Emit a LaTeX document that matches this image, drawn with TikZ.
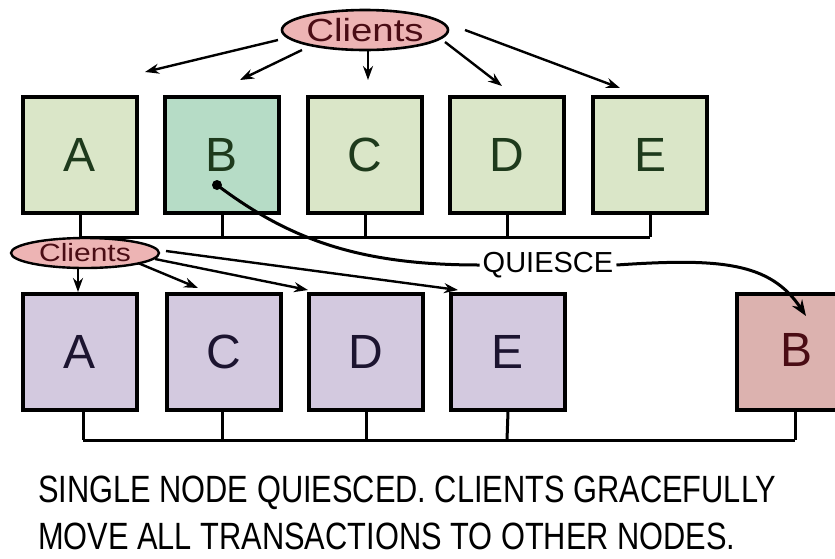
\documentclass[tikz,border=0pt]{standalone}
\usepackage{fontspec}
\setmainfont{Liberation Sans}
\usetikzlibrary{arrows.meta,shapes.geometric,positioning}
\definecolor{greenfill}{HTML}{DAE6C8}
\definecolor{tealfill}{HTML}{B6DCC6}
\definecolor{purplefill}{HTML}{D3C9DF}
\definecolor{rosefill}{HTML}{DCB2AF}
\definecolor{pinkfill}{HTML}{EDB4B4}
\definecolor{greenink}{HTML}{1E3A1C}
\definecolor{redink}{HTML}{4A0C14}
\definecolor{purpleink}{HTML}{1C1430}
\tikzset{
  server/.style={draw=black, line width=3.5pt, minimum width=114pt, minimum height=116pt, inner sep=0pt, font=\fontsize{48}{48}\selectfont},
  topserver/.style={server, fill=greenfill, text=greenink},
  lowserver/.style={server, fill=purplefill, text=purpleink},
  clientsbig/.style={ellipse, draw=black, line width=2.6pt, fill=pinkfill, text=redink, minimum width=150pt, minimum height=40pt, inner sep=0pt},
  clientssmall/.style={ellipse, draw=black, line width=2.4pt, fill=pinkfill, text=redink, minimum width=148pt, minimum height=30pt, inner sep=0pt},
  wire/.style={line width=3pt, black},
  req/.style={line width=2.4pt, black, -{Stealth[length=14pt,width=10pt]}},
  caption/.style={anchor=base west, inner sep=0pt, font=\fontsize{38}{38}\selectfont, xscale=0.81}
}
\begin{document}
\begin{tikzpicture}[x=1pt,y=-1pt]
\useasboundingbox (0,0) rectangle (835,558);

% upper cluster
\node[clientsbig] (cl1) at (365,30) {\fontsize{32}{32}\selectfont\scalebox{1.2}[1]{Clients}};
\node[topserver] (ta) at (80,155) {A};
\node[topserver, fill=tealfill] (tb) at (222,155) {B};
\node[topserver] (tc) at (365,155) {C};
\node[topserver] (td) at (507,155) {D};
\node[topserver] (te) at (650,155) {E};

\coordinate (ka) at (80,237);
\coordinate (kb) at (222,237);
\coordinate (kc) at (365,237);
\coordinate (kd) at (507,237);
\coordinate (ke) at (650,237);
\draw[wire] (ta.south) -- (ka);
\draw[wire] (tb.south) -- (kb);
\draw[wire] (tc.south) -- (kc);
\draw[wire] (td.south) -- (kd);
\draw[wire] (te.south) -- (ke);
\draw[wire] (ka) -- (ke);

\coordinate (ua) at (145,72);
\coordinate (ub) at (240,80);
\coordinate (uc) at (368,80);
\coordinate (ud) at (502,86);
\coordinate (ue) at (620,88);
\draw[req] (278,40) -- (ua);
\draw[req] (302,50) -- (ub);
\draw[req] (cl1.south) ++(3,0) -- (uc);
\draw[req] (445,42) -- (ud);
\draw[req] (465,30) -- (ue);

% lower cluster
\node[clientssmall] (cl2) at (85,253) {\fontsize{25}{25}\selectfont\scalebox{1.2}[1]{Clients}};
\node[lowserver] (la) at (80,352) {A};
\node[lowserver] (lc) at (224,352) {C};
\node[lowserver] (ld) at (366,352) {D};
\node[lowserver] (le) at (508,352) {E};
\node[server, fill=rosefill, text=redink, anchor=west] (lb) at (735,352) {};
\node[font=\fontsize{48}{48}\selectfont, text=redink] (lbl) at (796,350) {B};

\coordinate (ma) at (83,440);
\coordinate (mc) at (222,440);
\coordinate (md) at (366,440);
\coordinate (me) at (507,440);
\coordinate (mb) at (795,440);
\draw[wire] (83,410) -- (ma);
\draw[wire] (lc.south) ++(-2,0) -- (mc);
\draw[wire] (ld.south) -- (md);
\draw[wire] (le.south) -- (me);
\draw[wire] (795,410) -- (mb);
\draw[wire] (ma) -- (mb);

\coordinate (va) at (78,292);
\coordinate (vc) at (198,288);
\coordinate (vd) at (308,290);
\coordinate (ve) at (458,290);
\draw[req] (78,268) -- (va);
\draw[req] (138,263) -- (vc);
\draw[req] (155,259) -- (vd);
\draw[req] (166,251) -- (ve);

% the quiesce move
\node[font=\fontsize{29}{29}\selectfont, inner sep=3pt] (q) at (548,265) {QUIESCE};
\fill (217,185) circle (5pt);
\coordinate (bdot) at (217,185);
\draw[wire] (bdot) .. controls (290,240) and (360,265) .. (q.west);
\coordinate (btip) at (806,316);
\draw[line width=3pt, -{Stealth[length=16pt,width=12pt]}] (q.east) .. controls (720,258) and (770,262) .. (btip);

% caption
\node[caption] (cap1) at (38,502) {SINGLE NODE QUIESCED. CLIENTS GRACEFULLY};
\node[caption] (cap2) at (38,549) {MOVE ALL TRANSACTIONS TO OTHER NODES.};
\end{tikzpicture}
\end{document}
